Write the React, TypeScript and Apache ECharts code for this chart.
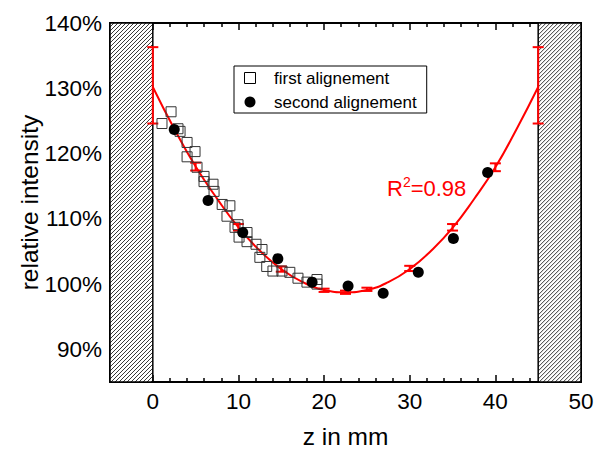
import React, { useEffect, useRef } from 'react';
import * as echarts from 'echarts';

// ---- data ----
const firstX = [1.07, 2.13, 2.94, 3.18, 4.0, 4.93, 4.0, 5.16, 5.98, 5.98, 7.03, 7.15, 8.1, 9.0, 8.66, 9.95, 9.6, 11.0, 10.07, 11.0, 12.05, 12.75, 12.5, 13.3, 14.03, 15.08, 16.0, 16.95, 18.0, 19.17, 19.17];
const firstY = [124.6, 126.4, 123.8, 123.4, 121.7, 120.3, 119.5, 117.9, 116.5, 115.7, 115.3, 114.2, 112.2, 112.0, 110.4, 109.1, 108.7, 107.9, 107.2, 106.5, 106.1, 105.3, 104.1, 102.7, 102.0, 102.0, 101.8, 100.9, 100.3, 100.7, 100.0];

const secondX = [2.5, 6.45, 10.5, 14.6, 18.6, 22.8, 26.9, 31.0, 35.1, 39.1];
const secondY = [123.7, 112.8, 107.9, 103.9, 100.3, 99.7, 98.6, 101.8, 107.0, 117.1];

const fitX = [0, 2.5, 5, 7.5, 10, 12.5, 15, 17.5, 20, 22.5, 25, 27.5, 30, 32.5, 35, 37.5, 40, 42.5, 45];
const fitY = [130.2, 123.8, 118.0, 113.1, 108.7, 105.1, 102.3, 100.3, 99.1, 98.75, 99.1, 100.3, 102.3, 105.1, 108.6, 113.0, 117.9, 123.8, 130.2];

const errX = [0, 5, 10, 15, 20, 22.5, 25, 30, 35, 40, 45];
const errLow = [124.6, 117.4, 108.2, 101.9, 98.8, 98.5, 98.95, 102.0, 108.2, 117.3, 124.6];
const errHigh = [136.3, 118.6, 109.2, 102.7, 99.3, 99.0, 99.45, 102.8, 109.2, 118.5, 136.3];

const hatchRanges = [[-5, 0], [45, 50]];

const xMin = -5, xMax = 50, yMin = 85, yMax = 140;
const xMajorTicks = [0, 10, 20, 30, 40, 50];
const xMinorTicks = [-4, -2, 2, 4, 6, 8, 12, 14, 16, 18, 22, 24, 26, 28, 32, 34, 36, 38, 42, 44, 46, 48];
const yMajorTicks = [90, 100, 110, 120, 130, 140];
const yMinorTicks = [95, 105, 115, 125, 135];

const FONT = '"Liberation Sans", Arial, Helvetica, sans-serif';

function makeAxis(pos: string, ticks: number[], len: number, main: boolean, labels: boolean, isX: boolean) {
  return {
    type: 'value',
    min: isX ? xMin : yMin,
    max: isX ? xMax : yMax,
    position: pos,
    splitLine: { show: false },
    axisLine: { show: main, onZero: false, lineStyle: { color: '#000', width: 2 } },
    axisTick: { show: true, inside: true, length: len, customValues: ticks, lineStyle: { color: '#000', width: 1.5 } },
    axisLabel: labels
      ? {
          show: true,
          customValues: ticks,
          color: '#000',
          fontSize: 22.5,
          fontFamily: FONT,
          margin: 8,
          formatter: isX ? (v: number) => String(v) : (v: number) => v + '%',
        }
      : { show: false },
  };
}

export default function App() {
  const ref = useRef<HTMLDivElement>(null);
  useEffect(() => {
    const chart = echarts.init(ref.current!, null, { renderer: 'svg' });
    const xAxes: any[] = [
      {
        ...makeAxis('bottom', xMajorTicks, 7, true, true, true),
        name: 'z in mm',
        nameLocation: 'middle',
        nameGap: 43,
        nameMoveOverlap: false,
        nameTextStyle: { color: '#000', fontSize: 24.5, lineHeight: 23, fontFamily: FONT },
      },
      makeAxis('bottom', xMinorTicks, 4, false, false, true),
      makeAxis('top', xMajorTicks, 7, true, false, true),
      makeAxis('top', xMinorTicks, 4, false, false, true),
    ];
    const yAxes: any[] = [
      {
        ...makeAxis('left', yMajorTicks, 7, true, true, false),
        name: 'relative intensity',
        nameLocation: 'middle',
        nameRotate: 90,
        nameGap: 68,
        nameMoveOverlap: false,
        nameTextStyle: { color: '#000', fontSize: 24.5, fontFamily: FONT },
      },
      makeAxis('left', yMinorTicks, 4, false, false, false),
      makeAxis('right', yMajorTicks, 7, true, false, false),
      makeAxis('right', yMinorTicks, 4, false, false, false),
    ];
    const option: any = {
      animation: false,
      backgroundColor: '#fff',
      grid: { left: 110, top: 23, right: 15, bottom: 67, containLabel: false, outerBoundsMode: 'none' },
      xAxis: xAxes,
      yAxis: yAxes,
      legend: {
        orient: 'vertical',
        left: 234,
        top: 66,
        itemWidth: 38,
        itemHeight: 11,
        itemGap: 6,
        symbolKeepAspect: true,
        padding: [3, 10, 2, 10],
        borderColor: '#000',
        borderWidth: 1,
        backgroundColor: '#fff',
        textStyle: { color: '#000', fontSize: 17, lineHeight: 18, fontFamily: FONT },
        data: [
          {
            name: 'first alignement',
            icon: 'path://M0,0L10,0L10,10L0,10Z',
            symbolKeepAspect: true,
            itemStyle: { color: '#fff', borderColor: '#000', borderWidth: 1, opacity: 1 },
          },
          { name: 'second alignement', icon: 'circle', itemStyle: { color: '#000', opacity: 1 } },
        ],
      },
      graphic: [
        {
          type: 'text',
          x: 387,
          y: 188,
          z: 100,
          style: {
            text: '{r|R}{s|2}{r|=0.98}',
            verticalAlign: 'middle',
            rich: {
              r: { fontSize: 22, lineHeight: 26, fill: '#ff0000', fontFamily: FONT },
              s: { fontSize: 14, lineHeight: 14, fill: '#ff0000', fontFamily: FONT, verticalAlign: 'top' },
            },
          },
        },
      ],
      series: [
        {
          type: 'custom',
          name: 'excluded',
          z: 1,
          silent: true,
          clip: false,
          data: hatchRanges,
          renderItem: (params: any, api: any) => {
            const x0 = api.value(0);
            const x1 = api.value(1);
            const tl = api.coord([x0, yMax]);
            const br = api.coord([x1, yMin]);
            const L = tl[0], T = tl[1], R = br[0], B = br[1];
            const children: any[] = [
              { type: 'rect', shape: { x: L, y: T, width: R - L, height: B - T }, style: { fill: '#fff', stroke: 'none' } },
            ];
            const step = 4;
            for (let c = L + T + step; c < R + B; c += step) {
              const xa = Math.max(L, c - B);
              const xb = Math.min(R, c - T);
              if (xb <= xa) continue;
              children.push({
                type: 'line',
                shape: { x1: xa, y1: c - xa, x2: xb, y2: c - xb },
                style: { stroke: '#222', lineWidth: 0.9 },
              });
            }
            children.push({
              type: 'rect',
              shape: { x: L, y: T, width: R - L, height: B - T },
              style: { fill: 'none', stroke: '#000', lineWidth: 1.5 },
            });
            return { type: 'group', children };
          },
        },
        {
          type: 'line',
          name: 'fit',
          z: 3,
          data: fitX.map((x, i) => [x, fitY[i]]),
          smooth: true,
          showSymbol: false,
          symbol: 'none',
          lineStyle: { color: '#ff0000', width: 2 },
        },
        {
          type: 'custom',
          name: 'errors',
          z: 4,
          clip: false,
          data: errX.map((x, i) => [x, errLow[i], errHigh[i]]),
          renderItem: (params: any, api: any) => {
            const x = api.value(0);
            const lo = api.coord([x, api.value(1)]);
            const hi = api.coord([x, api.value(2)]);
            const w = 5.5;
            const st = { stroke: '#ff0000', lineWidth: 2 };
            return {
              type: 'group',
              children: [
                { type: 'line', shape: { x1: lo[0], y1: lo[1], x2: hi[0], y2: hi[1] }, style: st },
                { type: 'line', shape: { x1: lo[0] - w, y1: lo[1], x2: lo[0] + w, y2: lo[1] }, style: st },
                { type: 'line', shape: { x1: hi[0] - w, y1: hi[1], x2: hi[0] + w, y2: hi[1] }, style: st },
              ],
            };
          },
        },
        {
          type: 'scatter',
          name: 'first alignement',
          z: 5,
          symbol: 'rect',
          symbolSize: 10,
          data: firstX.map((x, i) => [x, firstY[i]]),
          itemStyle: { color: 'rgba(255,255,255,0)', borderColor: '#333', borderWidth: 1, opacity: 1 },
        },
        {
          type: 'scatter',
          name: 'second alignement',
          z: 6,
          symbol: 'circle',
          symbolSize: 11,
          data: secondX.map((x, i) => [x, secondY[i]]),
          itemStyle: { color: '#000', opacity: 1 },
        },
      ],
    };
    chart.setOption(option);
    return () => chart.dispose();
  }, []);
  return <div ref={ref} style={{ position: 'fixed', left: 0, top: 0, width: 596, height: 449 }} />;
}
